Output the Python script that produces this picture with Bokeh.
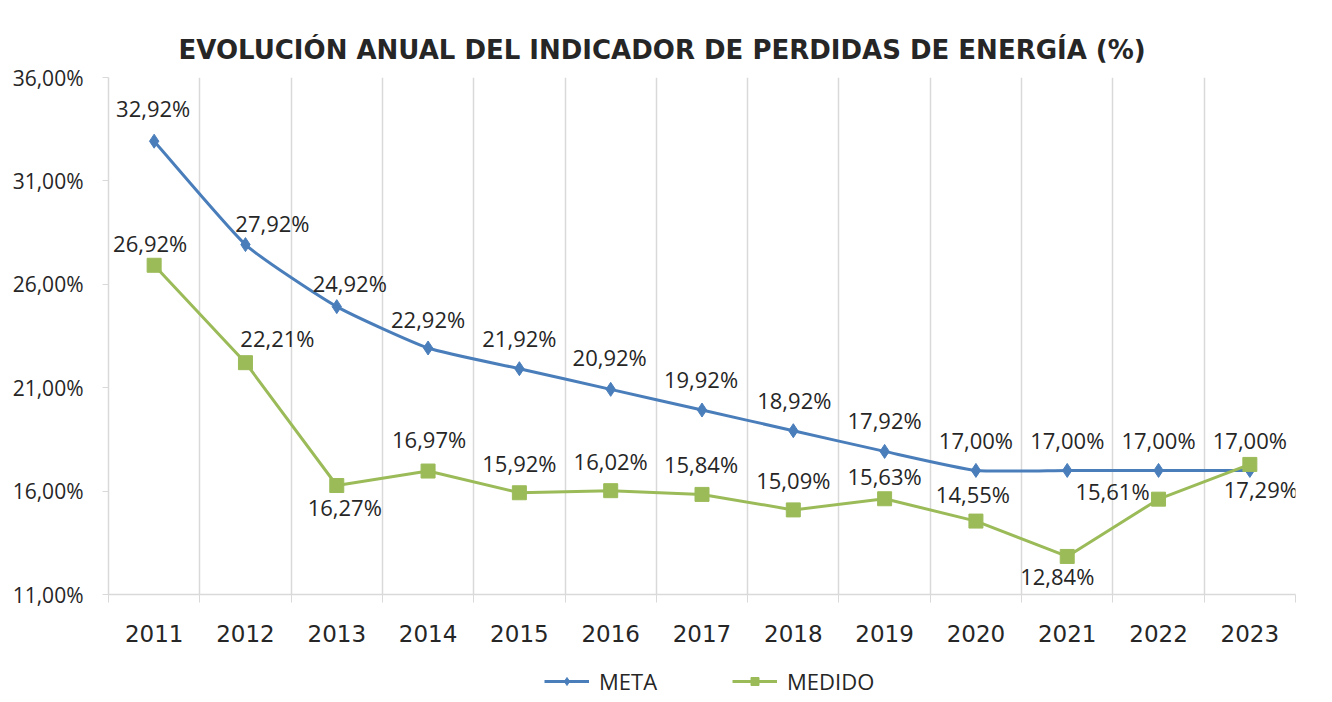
from bokeh.plotting import figure
from bokeh.layouts import column
from bokeh.models import Range1d, FixedTicker, ColumnDataSource, Legend, LegendItem, Title
from bokeh.embed import file_html
from bokeh.resources import INLINE
from bokeh.core.properties import value

# ---- data ----
years = ["2011", "2012", "2013", "2014", "2015", "2016", "2017",
         "2018", "2019", "2020", "2021", "2022", "2023"]
meta = [32.92, 27.92, 24.92, 22.92, 21.92, 20.92, 19.92,
        18.92, 17.92, 17.00, 17.00, 17.00, 17.00]
medido = [26.92, 22.21, 16.27, 16.97, 15.92, 16.02, 15.84,
          15.09, 15.63, 14.55, 12.84, 15.61, 17.29]
y_ticks = [11, 16, 21, 26, 31, 36]
y_tick_labels = ["11,00%", "16,00%", "21,00%", "26,00%", "31,00%", "36,00%"]
title_text = "EVOLUCIÓN ANUAL DEL INDICADOR DE PERDIDAS DE ENERGÍA (%)"

# label offsets (pixels) - style only
meta_dx = [-1, 27, 13, 0, 0, -1, -1, 1, 0, 0, 0, 0, 0]
meta_dy = [-33, -22, -24, -29, -31, -32, -31, -31, -31, -30, -30, -30, -30]
med_dx = [-4, 32, 8, 1, 0, 0, -1, 0, 0, -3, -10, -46, 11]
med_dy = [-22, -25, 21, -32, -30, -30, -30, -30, -23, -27, 20, -8, 25]

BLUE = "#4a7ebb"
GREEN = "#9bbb59"
TXT = "#262626"
GRID = "#d9d9d9"

def fmt(v):
    return f"{v:.2f}".replace(".", ",") + "%"

xs = list(range(len(years)))

p = figure(width=1320, height=650, output_backend="svg", toolbar_location=None,
           x_range=Range1d(-0.5, len(years) - 0.5), y_range=Range1d(11, 36),
           min_border_left=108, min_border_right=25, min_border_top=77,
           min_border_bottom=56)
p.outline_line_color = None
p.background_fill_color = "white"
p.border_fill_color = "white"

p.title = Title(text=title_text, align="left", offset=70,
                text_font="DejaVu Sans", text_font_size="26px",
                text_font_style="bold", text_color=TXT, standoff=26)

# x axis
xa = p.xaxis[0]
xa.ticker = FixedTicker(ticks=xs, minor_ticks=[i - 0.5 for i in range(len(years) + 1)])
xa.major_label_overrides = {i: y for i, y in enumerate(years)}
xa.major_tick_out = 0
xa.major_tick_in = 0
xa.minor_tick_out = 8
xa.minor_tick_in = 0
xa.minor_tick_line_color = GRID
xa.axis_line_color = GRID
xa.axis_line_width = 1.5
xa.major_label_text_font = "DejaVu Sans"
xa.major_label_text_font_size = "23px"
xa.major_label_text_color = TXT
xa.major_label_standoff = 22

# y axis
ya = p.yaxis[0]
ya.ticker = FixedTicker(ticks=y_ticks)
ya.major_label_overrides = {t: l for t, l in zip(y_ticks, y_tick_labels)}
ya.major_tick_out = 6
ya.major_tick_in = 0
ya.minor_tick_out = 0
ya.minor_tick_in = 0
ya.major_tick_line_color = GRID
ya.axis_line_color = GRID
ya.axis_line_width = 1.5
ya.major_label_text_font = "Open Sans"
ya.major_label_text_font_size = "21px"
ya.major_label_text_color = TXT
ya.major_label_standoff = 19

p.ygrid.visible = False
p.xgrid.ticker = FixedTicker(ticks=[i - 0.5 for i in range(1, len(years) + 1)])
p.xgrid.grid_line_color = GRID
p.xgrid.grid_line_width = 1.5

# smoothed META line (Excel-like bezier smoothing)
n = len(xs)
k = 12.0
x0, y0, x1, y1, cx0, cy0, cx1, cy1 = [], [], [], [], [], [], [], []
for i in range(n - 1):
    pm = (xs[max(i - 1, 0)], meta[max(i - 1, 0)])
    pa = (xs[i], meta[i])
    pb = (xs[i + 1], meta[i + 1])
    pn = (xs[min(i + 2, n - 1)], meta[min(i + 2, n - 1)])
    x0.append(pa[0]); y0.append(pa[1]); x1.append(pb[0]); y1.append(pb[1])
    cx0.append(pa[0] + (pb[0] - pm[0]) / k); cy0.append(pa[1] + (pb[1] - pm[1]) / k)
    cx1.append(pb[0] - (pn[0] - pa[0]) / k); cy1.append(pb[1] - (pn[1] - pa[1]) / k)
bez_src = ColumnDataSource(dict(x0=x0, y0=y0, x1=x1, y1=y1, cx0=cx0, cy0=cy0, cx1=cx1, cy1=cy1))

src = ColumnDataSource(dict(x=xs, meta=meta, medido=medido,
                            meta_lbl=[fmt(v) for v in meta],
                            med_lbl=[fmt(v) for v in medido],
                            meta_dx=meta_dx, meta_dy=meta_dy,
                            med_dx=med_dx, med_dy=med_dy))


def draw_series(fig):
    r1 = fig.bezier(x0="x0", y0="y0", x1="x1", y1="y1", cx0="cx0", cy0="cy0",
                    cx1="cx1", cy1="cy1", source=bez_src, line_color=BLUE, line_width=3)
    r2 = fig.scatter("x", "meta", source=src, marker="diamond", size=14,
                     fill_color=BLUE, line_color=BLUE)
    r3 = fig.line("x", "medido", source=src, line_color=GREEN, line_width=3)
    r4 = fig.scatter("x", "medido", source=src, marker="square", size=14,
                     fill_color=GREEN, line_color=GREEN)
    return r1, r2, r3, r4


draw_series(p)

p.text("x", "meta", text="meta_lbl", source=src, x_offset="meta_dx", y_offset="meta_dy",
       text_align="center", text_baseline="middle", text_font=value("Open Sans"),
       text_font_size="22px", text_color=TXT)
p.text("x", "medido", text="med_lbl", source=src, x_offset="med_dx", y_offset="med_dy",
       text_align="center", text_baseline="middle", text_font=value("Open Sans"),
       text_font_size="22px", text_color=TXT)

# legend strip below the chart (same series, ranges chosen so only the legend shows)
lg = figure(width=1320, height=50, output_backend="svg", toolbar_location=None,
            x_range=Range1d(100, 101), y_range=Range1d(100, 101),
            min_border=0)
lg.axis.visible = False
lg.grid.visible = False
lg.outline_line_color = None
lr1, lr2, lr3, lr4 = draw_series(lg)

legend = Legend(items=[LegendItem(label="META", renderers=[lr1, lr2]),
                       LegendItem(label="MEDIDO", renderers=[lr3, lr4])],
                orientation="horizontal", location=(436, 4),
                border_line_color=None, background_fill_alpha=0,
                label_text_font="Open Sans", label_text_font_size="22px",
                label_text_color=TXT, glyph_width=45, glyph_height=20,
                label_standoff=10, spacing=75, padding=3, margin=0)
lg.add_layout(legend, "center")

layout = column(p, lg, spacing=0)
open("out.html", "w").write(file_html(layout, INLINE))
